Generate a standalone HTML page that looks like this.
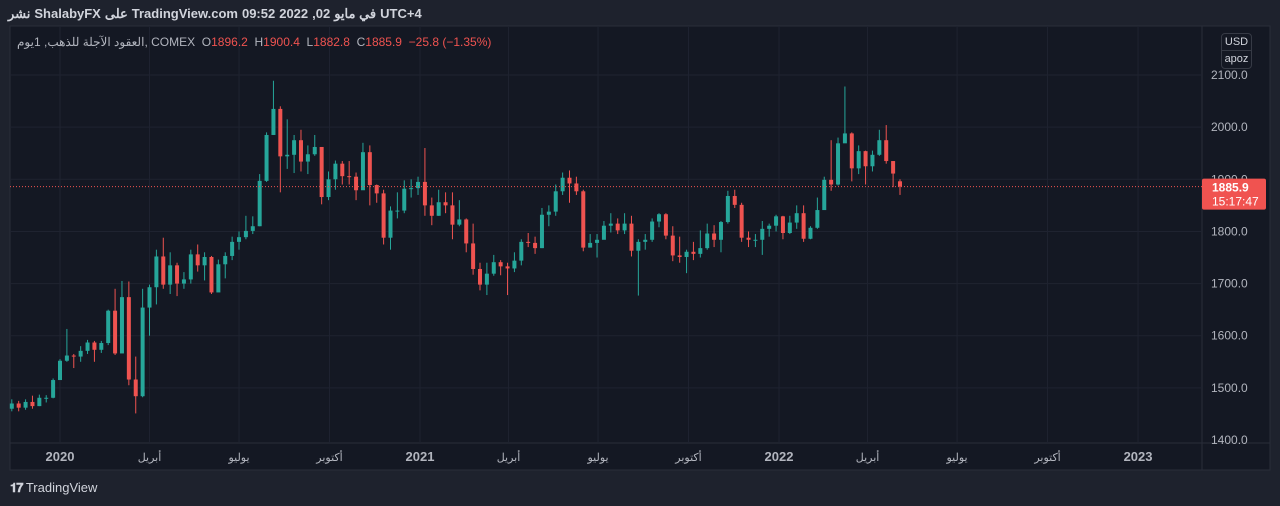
<!DOCTYPE html>
<html><head><meta charset="utf-8"><style>
body{margin:0;width:1280px;height:506px;background:#1e222d;overflow:hidden;font-family:"Liberation Sans","Noto Sans CJK SC",sans-serif;}
#wrap{position:relative;width:1280px;height:506px}
.t{position:absolute;white-space:nowrap}
.cap span{display:inline-block;margin-right:4px}
</style></head><body><div id="wrap">
<div class="t cap" style="left:8px;top:6px;color:#d1d4dc;font-size:13px;font-weight:bold;direction:ltr"><span>نشر</span><span>ShalabyFX</span><span>على</span><span>TradingView.com</span><span>09:52</span><span>2022</span><span>,02</span><span>في مايو</span><span>UTC+4</span></div>
<svg id="ch" width="1280" height="506" style="position:absolute;left:0;top:0"></svg>
<div class="t" style="left:17px;top:35px;font-size:12px;color:#b2b5be">العقود الآجلة للذهب, 1يوم, COMEX&nbsp;&nbsp;<span style="color:#b2b5be">O</span><span style="color:#ef5350">1896.2</span>&nbsp;&nbsp;H<span style="color:#ef5350">1900.4</span>&nbsp;&nbsp;L<span style="color:#ef5350">1882.8</span>&nbsp;&nbsp;C<span style="color:#ef5350">1885.9&nbsp;&nbsp;−25.8 (−1.35%)</span></div>
<div style="position:absolute;left:1221px;top:33px;width:29px;height:34px;border:1px solid #363a45;border-radius:4px;color:#d1d4dc;font-size:11px;text-align:center;line-height:16px">USD<div style="border-top:1px solid #363a45">apoz</div></div>
<div class="t" style="left:10px;top:480px;color:#d1d4dc;font-size:13px;"><b style="letter-spacing:-1px">𝟏𝟕</b> TradingView</div>
</div>
<script>
const weekStarts=["2019-11-11","2019-11-18","2019-11-25","2019-12-02","2019-12-09","2019-12-16","2019-12-23","2019-12-30","2020-01-06","2020-01-13","2020-01-20","2020-01-27","2020-02-03","2020-02-10","2020-02-17","2020-02-24","2020-03-02","2020-03-09","2020-03-16","2020-03-23","2020-03-30","2020-04-06","2020-04-13","2020-04-20","2020-04-27","2020-05-04","2020-05-11","2020-05-18","2020-05-25","2020-06-01","2020-06-08","2020-06-15","2020-06-22","2020-06-29","2020-07-06","2020-07-13","2020-07-20","2020-07-27","2020-08-03","2020-08-10","2020-08-17","2020-08-24","2020-08-31","2020-09-07","2020-09-14","2020-09-21","2020-09-28","2020-10-05","2020-10-12","2020-10-19","2020-10-26","2020-11-02","2020-11-09","2020-11-16","2020-11-23","2020-11-30","2020-12-07","2020-12-14","2020-12-21","2020-12-28","2021-01-04","2021-01-11","2021-01-18","2021-01-25","2021-02-01","2021-02-08","2021-02-15","2021-02-22","2021-03-01","2021-03-08","2021-03-15","2021-03-22","2021-03-29","2021-04-05","2021-04-12","2021-04-19","2021-04-26","2021-05-03","2021-05-10","2021-05-17","2021-05-24","2021-05-31","2021-06-07","2021-06-14","2021-06-21","2021-06-28","2021-07-05","2021-07-12","2021-07-19","2021-07-26","2021-08-02","2021-08-09","2021-08-16","2021-08-23","2021-08-30","2021-09-06","2021-09-13","2021-09-20","2021-09-27","2021-10-04","2021-10-11","2021-10-18","2021-10-25","2021-11-01","2021-11-08","2021-11-15","2021-11-22","2021-11-29","2021-12-06","2021-12-13","2021-12-20","2021-12-27","2022-01-03","2022-01-10","2022-01-17","2022-01-24","2022-01-31","2022-02-07","2022-02-14","2022-02-21","2022-02-28","2022-03-07","2022-03-14","2022-03-21","2022-03-28","2022-04-04","2022-04-11","2022-04-18","2022-04-25","2022-05-02"];
const closes=[1470,1462,1473,1465,1481,1481,1515,1552,1562,1560,1571,1587,1573,1586,1648,1566,1674,1516,1484,1654,1693,1752,1698,1735,1700,1708,1756,1735,1751,1683,1737,1753,1780,1789,1801,1810,1897,1985,2035,1944,1947,1975,1934,1948,1962,1866,1900,1930,1906,1905,1879,1952,1889,1873,1788,1840,1840,1882,1883,1895,1850,1830,1856,1850,1813,1823,1777,1728,1698,1719,1741,1733,1729,1744,1780,1778,1768,1832,1838,1877,1903,1892,1877,1769,1778,1784,1811,1815,1802,1815,1763,1780,1784,1819,1833,1792,1754,1751,1761,1757,1768,1796,1784,1818,1868,1851,1788,1784,1784,1805,1811,1829,1797,1817,1835,1786,1807,1841,1899,1890,1969,1988,1921,1954,1925,1947,1975,1935,1911,1886];
const highs=[1478,1475,1478,1485,1487,1486,1518,1555,1613,1565,1580,1592,1590,1590,1650,1690,1705,1704,1560,1690,1698,1765,1788,1760,1740,1722,1765,1775,1760,1753,1746,1760,1790,1800,1830,1829,1910,1990,2089,2040,2015,1985,1995,1965,1985,1925,1915,1936,1935,1935,1913,1970,1965,1890,1880,1848,1875,1898,1900,1905,1960,1865,1880,1875,1875,1860,1825,1815,1740,1740,1755,1745,1740,1760,1785,1797,1790,1845,1850,1890,1913,1917,1905,1880,1795,1795,1820,1835,1825,1835,1830,1785,1795,1825,1835,1835,1810,1790,1765,1780,1802,1815,1812,1820,1878,1880,1855,1800,1795,1820,1815,1832,1830,1830,1850,1850,1810,1865,1905,1975,1980,2078,1990,1965,1955,1955,1995,2004,1935,1900];
const lows=[1455,1455,1458,1460,1465,1472,1480,1515,1550,1538,1550,1565,1550,1567,1582,1563,1588,1505,1451,1482,1600,1660,1690,1680,1676,1690,1700,1723,1706,1680,1704,1710,1745,1765,1785,1795,1810,1895,1985,1875,1920,1912,1915,1910,1945,1852,1860,1880,1890,1890,1860,1880,1850,1855,1775,1765,1825,1835,1865,1870,1830,1812,1830,1835,1785,1810,1760,1717,1687,1678,1715,1716,1678,1722,1735,1770,1757,1768,1810,1830,1870,1855,1870,1762,1770,1750,1785,1798,1795,1795,1752,1677,1765,1780,1808,1785,1743,1740,1720,1745,1750,1765,1770,1760,1815,1845,1780,1770,1770,1755,1790,1800,1785,1795,1805,1780,1785,1805,1845,1878,1888,1980,1896,1910,1890,1915,1945,1930,1885,1870];
const firstOpen=1460, lastOpen=1896.2;
const priceTicks=[1400,1500,1600,1700,1800,1900,2000,2100];
const timeTicks=[["2020-01-01","2020",1],["2020-04-01","أبريل",0],["2020-07-01","يوليو",0],["2020-10-01","أكتوبر",0],["2021-01-01","2021",1],["2021-04-01","أبريل",0],["2021-07-01","يوليو",0],["2021-10-01","أكتوبر",0],["2022-01-01","2022",1],["2022-04-01","أبريل",0],["2022-07-01","يوليو",0],["2022-10-01","أكتوبر",0],["2023-01-01","2023",1]];
const lastPrice=1885.9;

const svg=document.getElementById('ch');const NS='http://www.w3.org/2000/svg';
function el(t,a,p){const e=document.createElementNS(NS,t);for(const k in a)e.setAttribute(k,a[k]);(p||svg).appendChild(e);return e;}
const T0=Date.UTC(2020,0,1);
function dayOf(s){const [y,m,d]=s.split('-').map(Number);return (Date.UTC(y,m-1,d)-T0)/864e5;}
const X=d=>60+d*0.9836;
const Y=p=>440-(p-1400)*0.5214;
const L=10,R=1202,TOP=26,BOT=443;
let bg=el('rect',{x:10,y:26,width:1260,height:444,fill:'#141823',stroke:'#2a2e39'});

el('line',{x1:R,y1:TOP,x2:R,y2:470,stroke:'#2a2e39'});
el('line',{x1:L,y1:BOT,x2:1270,y2:BOT,stroke:'#2a2e39'});
priceTicks.forEach(p=>{
  const y=Y(p);
  if(p>1400){const g=el('line',{x1:L,y1:y,x2:R,y2:y,stroke:'#1f2330'});}
  const t=el('text',{x:1211,y:y+4,fill:'#b2b5be','font-size':12});t.textContent=p.toFixed(1);
  
});
timeTicks.forEach(([d,lab,b])=>{
  const x=X(dayOf(d));
  const g=el('line',{x1:x,y1:TOP,x2:x,y2:BOT,stroke:'#1f2330'});
  
  const t=el('text',{x:x,y:461,fill:'#b2b5be','font-size':b?13:11,'font-weight':b?'bold':'normal','text-anchor':'middle'});t.textContent=lab;
  
});
const cg=el('g',{});
closes.forEach((c,i)=>{
  const o=i==0?firstOpen:(i==closes.length-1?lastOpen:closes[i-1]);
  const x=X(dayOf(weekStarts[i])+2);
  const col=c>=o?'#26a69a':'#ef5350';
  const w=el('line',{x1:x,y1:Y(highs[i]),x2:x,y2:Y(lows[i]),stroke:col,'stroke-width':1},cg);
  
  const yt=Math.min(Y(o),Y(c)),h=Math.max(1,Math.abs(Y(o)-Y(c)));
  const b=el('rect',{x:x-2,y:yt,width:4,height:h,fill:col},cg);
  
});
const ly=Y(lastPrice);
const dl=el('line',{x1:L,y1:ly,x2:R,y2:ly,stroke:'#ef5350','stroke-dasharray':'1,2'});

const lb=el('rect',{x:R,y:ly-8,width:64,height:31,rx:2,fill:'#f05350'});

const t1=el('text',{x:1212,y:ly+5,fill:'#fff','font-size':12,'font-weight':'bold'});t1.textContent=lastPrice.toFixed(1);

const t2=el('text',{x:1212,y:ly+19,fill:'#fff','font-size':12});t2.textContent='15:17:47';

</script></body></html>
